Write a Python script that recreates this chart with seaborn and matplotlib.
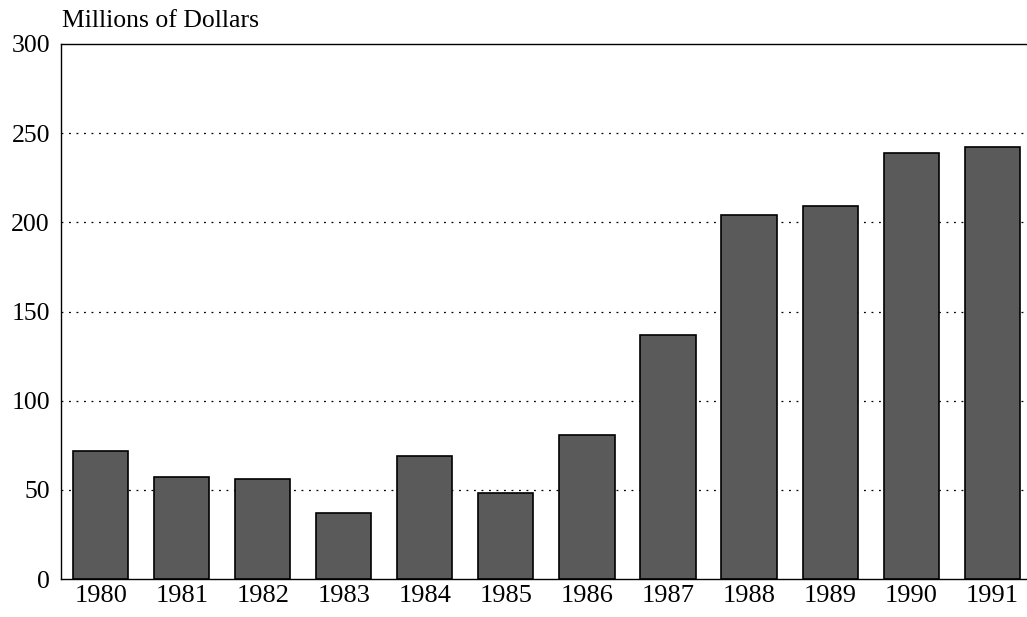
import matplotlib
matplotlib.use("Agg")
import matplotlib.pyplot as plt
import seaborn as sns
import pandas as pd

# Annual amounts, millions of dollars
years = ["1980", "1981", "1982", "1983", "1984", "1985",
         "1986", "1987", "1988", "1989", "1990", "1991"]
amounts = [72, 57, 56, 37, 69, 48, 81, 137, 204, 209, 239, 242]
y_ticks = [0, 50, 100, 150, 200, 250, 300]

sns.set_theme(style="white")
plt.rcParams["font.family"] = ["Liberation Serif", "DejaVu Serif"]

df = pd.DataFrame({"year": years, "amount": amounts})

fig = plt.figure(figsize=(10.27, 6.17), dpi=100)
ax = fig.add_axes([61 / 1027, 1 - 579 / 617, (1027 - 61) / 1027, (579 - 44) / 617])

sns.barplot(data=df, x="year", y="amount", ax=ax, color="#5a5a5a",
            saturation=1, width=0.68, edgecolor="black", linewidth=1.2, zorder=3)

ax.set_ylim(0, 300)
ax.set_xlim(-0.49, 11.43)
ax.set_yticks(y_ticks)
ax.set_yticklabels([str(v) for v in y_ticks])

# dotted reference lines behind the bars
for v in y_ticks[1:-1]:
    ax.axhline(v, color="black", linestyle=(0, (1.5, 4.5)), linewidth=0.9, zorder=1)

for side in ["top", "left", "bottom"]:
    ax.spines[side].set_visible(True)
    ax.spines[side].set_color("black")
    ax.spines[side].set_linewidth(1.0)
ax.spines["right"].set_visible(False)

ax.tick_params(axis="y", direction="in", length=5, width=1.0, colors="black",
               labelsize=18.5, pad=8)
ax.tick_params(axis="x", length=0, labelsize=19, pad=4, colors="black")
ax.set_xlabel("")
ax.set_ylabel("")
ax.grid(False)

fig.text(62 / 1027, 1 - 21 / 617, "Millions of Dollars", fontsize=18.5,
         ha="left", va="center", color="black")

fig.savefig("out.png", dpi=100, facecolor="white")
